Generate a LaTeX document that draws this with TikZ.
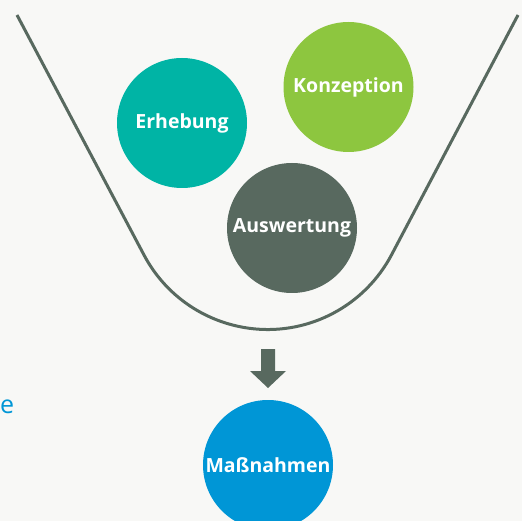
\documentclass[tikz,border=0pt]{standalone}
\usepackage{fontspec}
\setmainfont{Open Sans}
\definecolor{bg}{HTML}{F8F8F6}
\definecolor{funnel}{HTML}{58695F}
\definecolor{teal}{HTML}{00B4A5}
\definecolor{lgreen}{HTML}{8DC63F}
\definecolor{mblue}{HTML}{0096D6}
\tikzset{
  bubble/.style={circle, minimum size=130pt, inner sep=0pt, text=white, font=\fontsize{19.5}{21}\selectfont\bfseries},
}
\begin{document}
\begin{tikzpicture}[x=1pt,y=-1pt]
\useasboundingbox (0,0) rectangle (522,521);
\clip (0,0) rectangle (522,521);
\fill[bg] (0,0) rectangle (522,521);
% funnel
\coordinate (ftl) at (17,15);
\coordinate (ftr) at (518,15);
\draw[funnel, line width=3pt] (ftl) -- (144,255) arc[start angle=152.1, end angle=27.9, radius=140] -- (ftr);
% bubbles
\node[bubble, fill=teal] (erh) at (182,123) {Erhebung};
\node[bubble, fill=lgreen] (kon) at (348.5,87) {Konzeption};
\node[bubble, fill=funnel] (aus) at (292,228) {Auswertung};
\node[bubble, fill=mblue] (mas) at (268,465) {Maßnahmen};
% arrow
\fill[funnel] (261,349) -- (275,349) -- (275,371) -- (286,371) -- (268,388) -- (250,371) -- (261,371) -- cycle;
% cut-off label
\node[anchor=base west, inner sep=0pt, text=mblue, font=\fontsize{25}{28}\selectfont] (lbl) at (0,413) {e};
\end{tikzpicture}
\end{document}
